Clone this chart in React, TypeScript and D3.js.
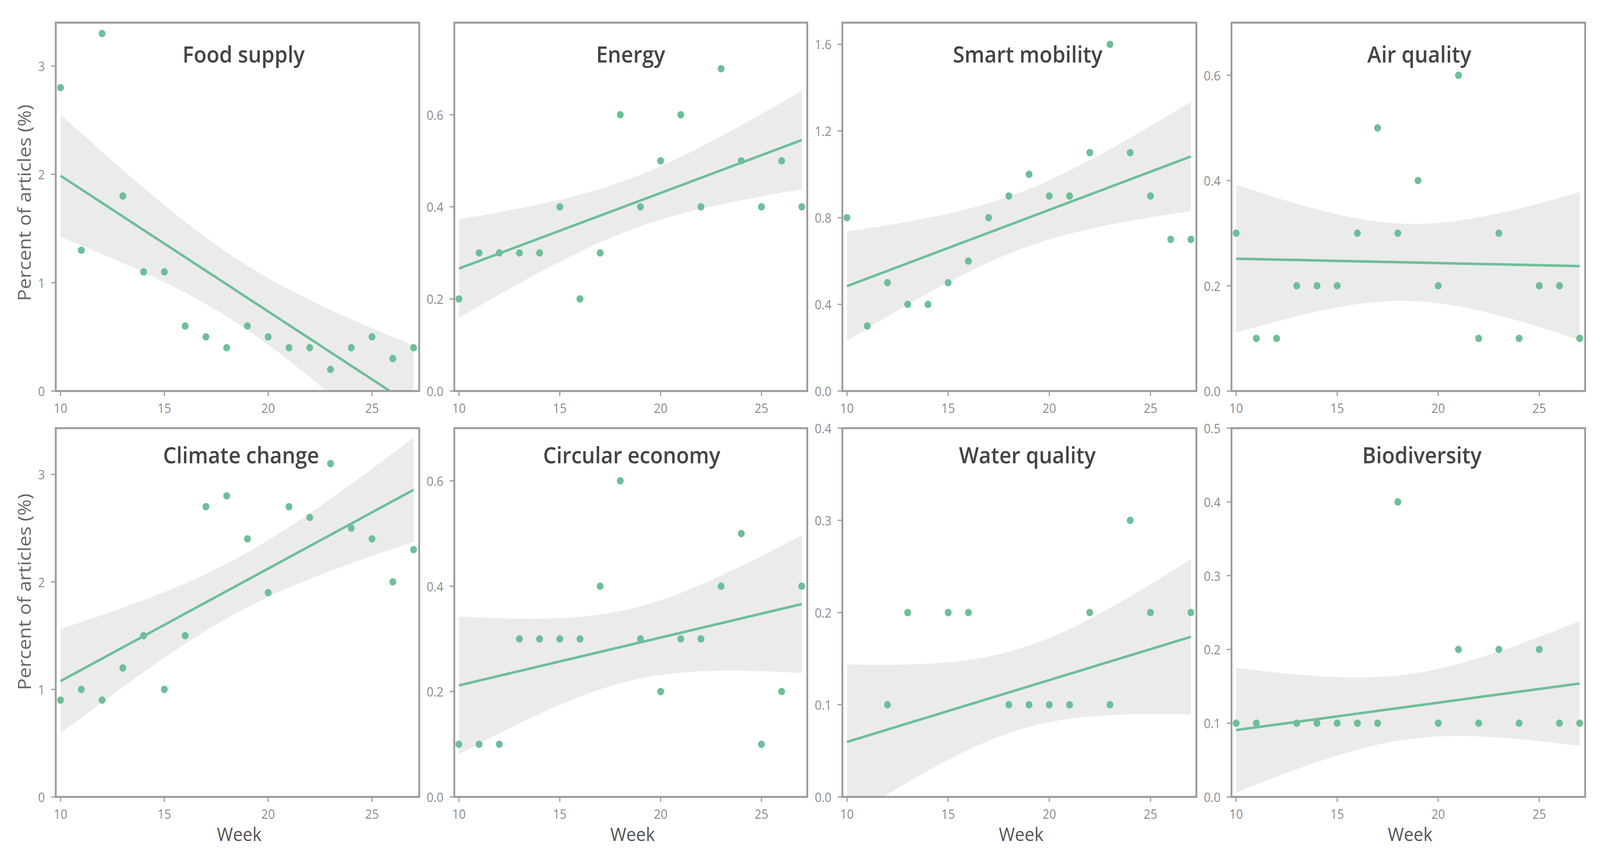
import React from 'react';
import * as d3 from 'd3';

// weeks on the x axis
const weeks = [10, 11, 12, 13, 14, 15, 16, 17, 18, 19, 20, 21, 22, 23, 24, 25, 26, 27];

// percent of articles per week, one array per topic
const foodSupply = [2.8, 1.3, 3.3, 1.8, 1.1, 1.1, 0.6, 0.5, 0.4, 0.6, 0.5, 0.4, 0.4, 0.2, 0.4, 0.5, 0.3, 0.4];
const energy = [0.2, 0.3, 0.3, 0.3, 0.3, 0.4, 0.2, 0.3, 0.6, 0.4, 0.5, 0.6, 0.4, 0.7, 0.5, 0.4, 0.5, 0.4];
const smartMobility = [0.8, 0.3, 0.5, 0.4, 0.4, 0.5, 0.6, 0.8, 0.9, 1.0, 0.9, 0.9, 1.1, 1.6, 1.1, 0.9, 0.7, 0.7];
const airQuality = [0.3, 0.1, 0.1, 0.2, 0.2, 0.2, 0.3, 0.5, 0.3, 0.4, 0.2, 0.6, 0.1, 0.3, 0.1, 0.2, 0.2, 0.1];
const climateChange = [0.9, 1.0, 0.9, 1.2, 1.5, 1.0, 1.5, 2.7, 2.8, 2.4, 1.9, 2.7, 2.6, 3.1, 2.5, 2.4, 2.0, 2.3];
const circularEconomy = [0.1, 0.1, 0.1, 0.3, 0.3, 0.3, 0.3, 0.4, 0.6, 0.3, 0.2, 0.3, 0.3, 0.4, 0.5, 0.1, 0.2, 0.4];
const waterQuality = [0, 0, 0.1, 0.2, 0, 0.2, 0.2, 0, 0.1, 0.1, 0.1, 0.1, 0.2, 0.1, 0.3, 0.2, 0, 0.2];
const biodiversity = [0.1, 0.1, 0, 0.1, 0.1, 0.1, 0.1, 0.1, 0.4, 0, 0.1, 0.2, 0.1, 0.2, 0.1, 0.2, 0.1, 0.1];

const titles = [
  'Food supply', 'Energy', 'Smart mobility', 'Air quality',
  'Climate change', 'Circular economy', 'Water quality', 'Biodiversity',
];
const seriesList = [foodSupply, energy, smartMobility, airQuality, climateChange, circularEconomy, waterQuality, biodiversity];

// y axis upper limits and tick labels per panel
const yMax = [3.4, 0.8, 1.7, 0.7, 3.43, 0.7, 0.4, 0.5];
const yTicks = [
  [0, 1, 2, 3],
  [0, 0.2, 0.4, 0.6],
  [0, 0.4, 0.8, 1.2, 1.6],
  [0, 0.2, 0.4, 0.6],
  [0, 1, 2, 3],
  [0, 0.2, 0.4, 0.6],
  [0, 0.1, 0.2, 0.3, 0.4],
  [0, 0.1, 0.2, 0.3, 0.4, 0.5],
];
const xTicks = [10, 15, 20, 25];

// layout (viewBox units, same as the reference's pixels)
const W = 4420;
const H = 2181;
const colLeft = [154, 1255, 2327, 3402];
const colRight = [1158, 2230, 3305, 4379];
const rowTop = [58, 1096];
const rowBottom = [1001, 2040];
const titleX = [673, 1742, 2839, 3921, 666, 1745, 2838, 3928];
const titleY = [160, 1186];
const yTitleY = [519, 1515];

const GREEN = '#6dbf99';
const BORDER = '#9a9a9a';
const TICK_TEXT = '#8a8a8a';
const FONT = '"Open Sans", "Noto Sans", sans-serif';
const T_95 = 2.1199; // t quantile, df = 16

function fitLm(xs: number[], ys: number[]) {
  const n = xs.length;
  const mx = d3.mean(xs) as number;
  const my = d3.mean(ys) as number;
  const sxx = d3.sum(xs, (x) => (x - mx) ** 2);
  const sxy = d3.sum(xs, (x, i) => (x - mx) * (ys[i] - my));
  const slope = sxy / sxx;
  const intercept = my - slope * mx;
  const ssr = d3.sum(xs, (x, i) => (ys[i] - (intercept + slope * x)) ** 2);
  const s = Math.sqrt(ssr / (n - 2));
  const grid = d3.range(80).map((i) => xs[0] + ((xs[n - 1] - xs[0]) * i) / 79);
  return grid.map((x) => {
    const fit = intercept + slope * x;
    const se = s * Math.sqrt(1 / n + (x - mx) ** 2 / sxx);
    return { x, fit, lo: fit - T_95 * se, hi: fit + T_95 * se };
  });
}

function Panel({ idx }: { idx: number }) {
  const col = idx % 4;
  const row = Math.floor(idx / 4);
  const left = colLeft[col];
  const right = colRight[col];
  const top = rowTop[row];
  const bottom = rowBottom[row];
  const values = seriesList[idx];

  const x = d3.scaleLinear().domain([9.77, 27.27]).range([left, right]);
  const y = d3.scaleLinear().domain([0, yMax[idx]]).range([bottom, top]);

  const fitted = fitLm(weeks, values);
  const area = d3
    .area<{ x: number; lo: number; hi: number }>()
    .x((d) => x(d.x))
    .y0((d) => y(d.lo))
    .y1((d) => y(d.hi));
  const line = d3
    .line<{ x: number; fit: number }>()
    .x((d) => x(d.x))
    .y((d) => y(d.fit));

  const ticks = yTicks[idx];
  const intTicks = ticks.every((t) => Number.isInteger(t));
  const fmt = intTicks ? d3.format('d') : d3.format('.1f');
  const clipId = `clip-${idx}`;

  return (
    <g>
      <defs>
        <clipPath id={clipId}>
          <rect x={left} y={top} width={right - left} height={bottom - top} />
        </clipPath>
      </defs>
      <g clipPath={`url(#${clipId})`}>
        <path d={area(fitted) || ''} fill="#ebebeb" />
        <path d={line(fitted) || ''} fill="none" stroke={GREEN} strokeWidth={6.5} />
      </g>
      {weeks.map((w, i) =>
        values[i] > 0 ? (
          <circle key={w} cx={x(w)} cy={y(values[i])} r={9.5} fill={GREEN} />
        ) : null
      )}
      <rect
        x={left}
        y={top}
        width={right - left}
        height={bottom - top}
        fill="none"
        stroke={BORDER}
        strokeWidth={5}
      />
      {ticks.map((t) => (
        <g key={t}>
          <line x1={left - 13} x2={left} y1={y(t)} y2={y(t)} stroke={BORDER} strokeWidth={3} />
          <text
            x={left - 30}
            y={y(t)}
            textAnchor="end"
            dominantBaseline="central"
            fontFamily={FONT}
            fontSize={33}
            fill={TICK_TEXT}
          >
            {fmt(t)}
          </text>
        </g>
      ))}
      {xTicks.map((t) => (
        <g key={t}>
          <line x1={x(t)} x2={x(t)} y1={bottom} y2={bottom + 13} stroke={BORDER} strokeWidth={3} />
          <text
            x={x(t)}
            y={bottom + 56}
            textAnchor="middle"
            fontFamily={FONT}
            fontSize={33}
            fill={TICK_TEXT}
          >
            {t}
          </text>
        </g>
      ))}
      <text
        x={titleX[idx]}
        y={titleY[row]}
        textAnchor="middle"
        fontFamily={FONT}
        fontSize={58}
        fontWeight={600}
        fill="#444"
      >
        {titles[idx]}
      </text>
      {row === 1 && (
        <text
          x={(left + right) / 2 + 5}
          y={2153}
          textAnchor="middle"
          fontFamily={FONT}
          fontSize={48}
          fill="#555"
        >
          Week
        </text>
      )}
      {col === 0 && (
        <text
          transform={`translate(66, ${yTitleY[row]}) rotate(-90)`}
          textAnchor="middle"
          dominantBaseline="central"
          fontFamily={FONT}
          fontSize={50}
          fill="#666"
        >
          Percent of articles (%)
        </text>
      )}
    </g>
  );
}

export default function App() {
  return (
    <svg
      viewBox={`0 0 ${W} ${H}`}
      preserveAspectRatio="none"
      style={{
        position: 'fixed',
        left: 0,
        top: 0,
        width: '100vw',
        height: '100vh',
        display: 'block',
        background: '#fff',
      }}
    >
      <rect width={W} height={H} fill="#fff" />
      {titles.map((_, i) => (
        <Panel key={i} idx={i} />
      ))}
    </svg>
  );
}
